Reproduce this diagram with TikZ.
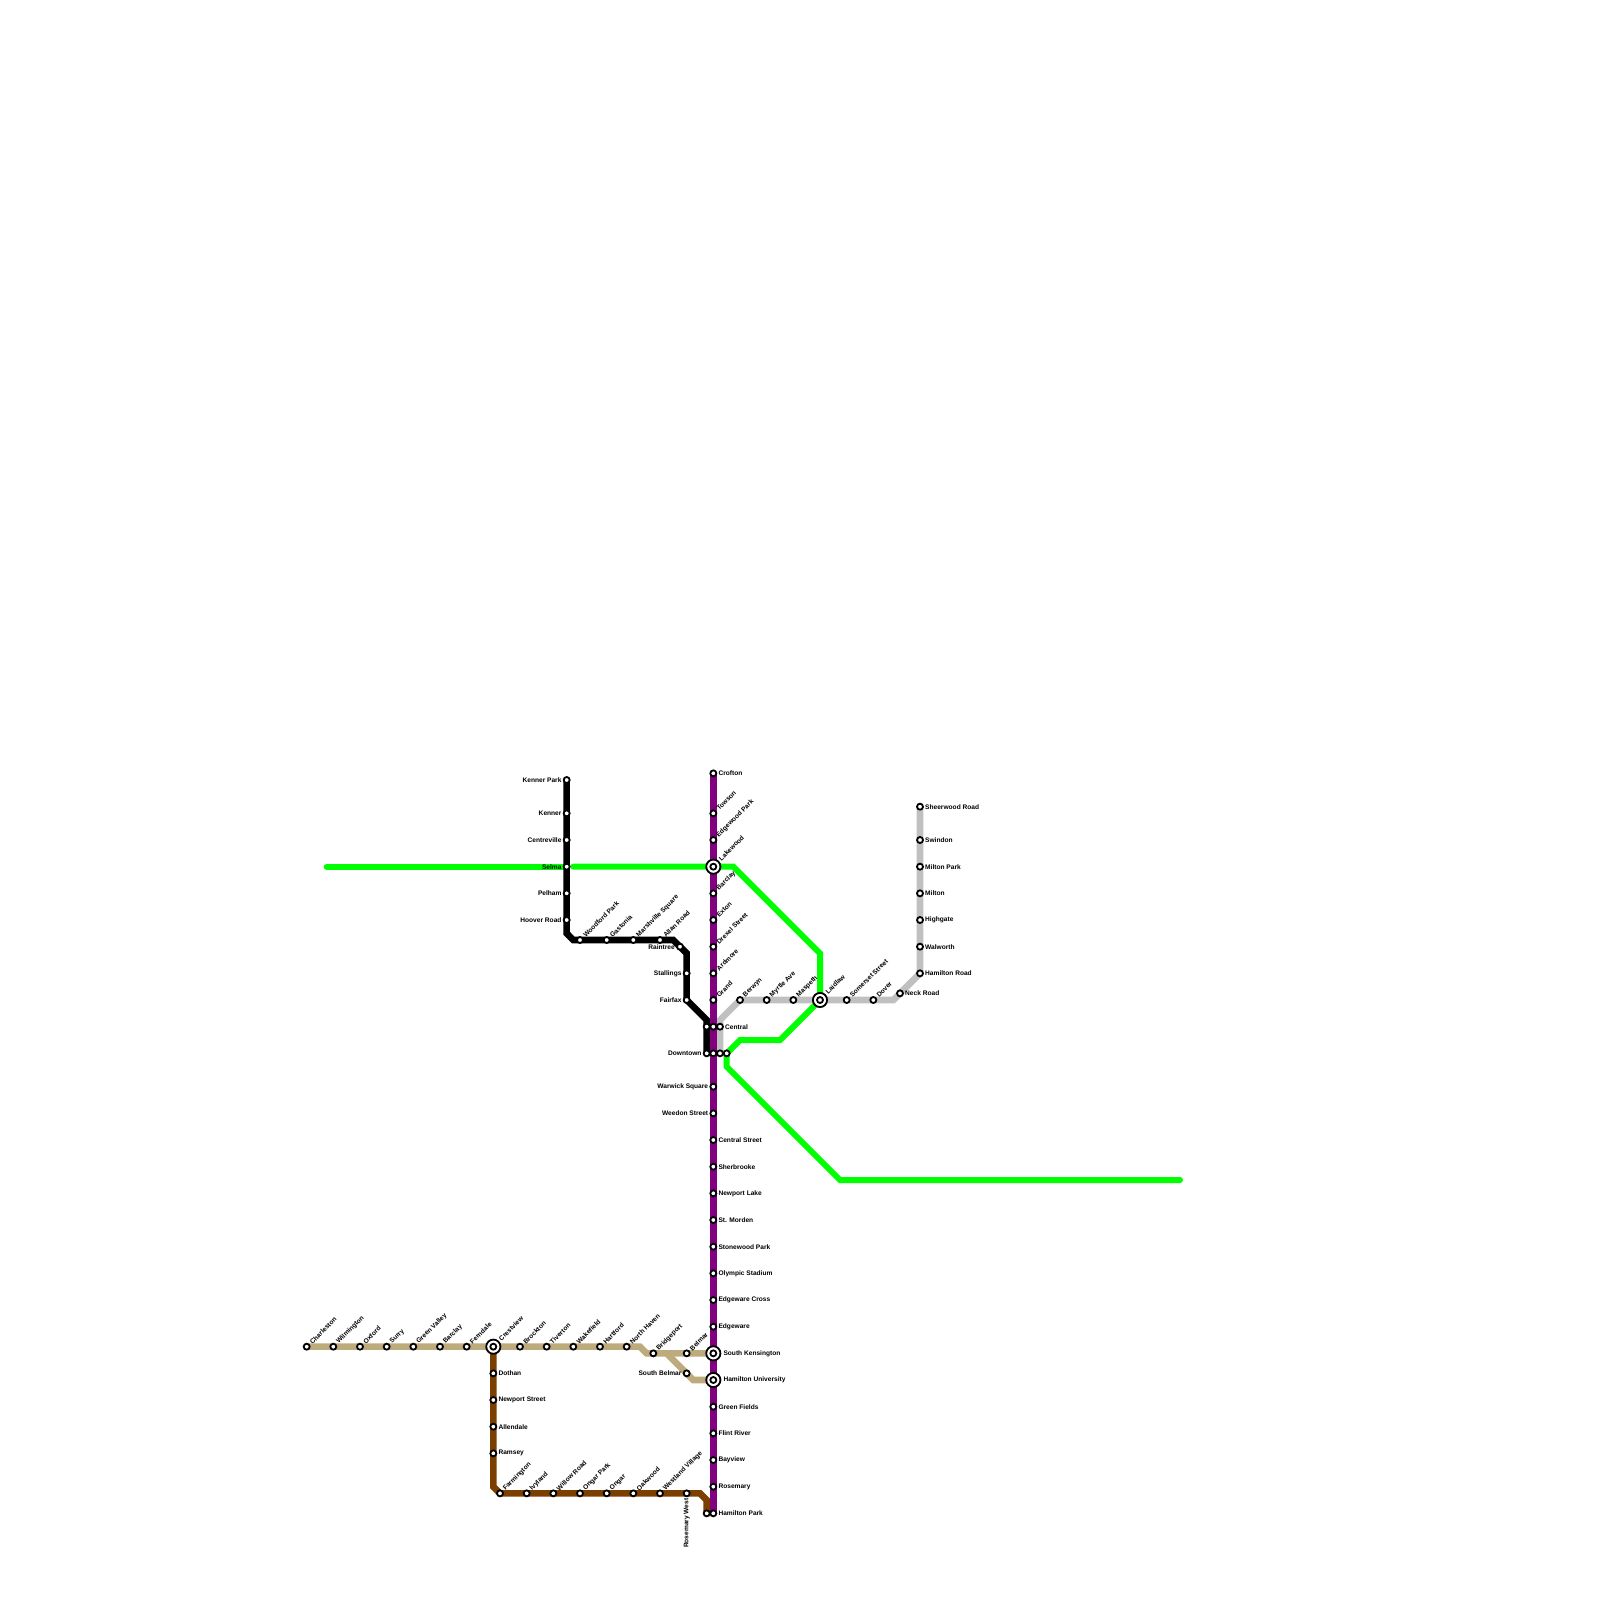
\documentclass[tikz,border=0pt]{standalone}
\usepackage{fontspec}
\setmainfont{Liberation Sans}
\definecolor{MetroPurple}{RGB}{128,0,128}
\definecolor{MetroGreen}{RGB}{0,255,0}
\definecolor{MetroGrey}{RGB}{192,192,192}
\definecolor{MetroTan}{RGB}{189,170,125}
\definecolor{MetroBrown}{RGB}{123,63,0}
\usetikzlibrary{backgrounds}
\tikzset{
    stn/.style={circle, draw=black, fill=white, line width=1.8pt, minimum size=6pt, inner sep=0pt},
    hub/.style={circle, draw=black, fill=white, line width=1.8pt, minimum size=14.2pt, inner sep=0pt},
    tag/.style={font=\fontsize{6.6}{7}\selectfont\bfseries, inner sep=0pt},
    tagr/.style={tag, xshift=5pt, anchor=west},
    tagl/.style={tag, xshift=-5pt, anchor=east},
    tagd/.style={tag, xshift=4.2pt, yshift=3.8pt, rotate=45, anchor=west},
    tagv/.style={tag, yshift=-5pt, rotate=90, anchor=east},
    tagR/.style={tag, xshift=10pt, anchor=west},
    tagD/.style={tag, xshift=6.5pt, yshift=7pt, rotate=45, anchor=west},
    metro/.style={line width=6.6pt, line cap=round},
}
\begin{document}
\begin{tikzpicture}[x=1pt, y=-1pt]
    \useasboundingbox (0,0) rectangle (1600,1600);
    \foreach \id/\x/\y/\side/\txt in {
        lakewood/713.33/866.67/tagD/Lakewood,
        laidlaw/820/1000/tagD/Laidlaw,
        crestview/493.33/1346.67/tagD/Crestview,
        kensington/713.33/1353.33/tagR/South Kensington,
        hamuni/713.33/1380/tagR/Hamilton University}{
        \node[hub] (\id-o) at (\x,\y) {};
        \node[stn] (\id) at (\x,\y) {};
        \node[\side] (\id-t) at (\id) {\txt};
    }
    \foreach \id/\x/\y/\side/\txt in {
        crofton/713.33/773.33/tagr/Crofton,
        towson/713.33/813.33/tagd/Towson,
        edgewood/713.33/840/tagd/Edgewood Park,
        barclayp/713.33/893.33/tagd/Barclay,
        exton/713.33/920/tagd/Exton,
        drexel/713.33/946.67/tagd/Drexel Street,
        ardmore/713.33/973.33/tagd/Ardmore,
        grand/713.33/1000/tagd/Grand,
        warwick/713.33/1086.67/tagl/Warwick Square,
        weedon/713.33/1113.33/tagl/Weedon Street,
        centralst/713.33/1140/tagr/Central Street,
        sherbrooke/713.33/1166.67/tagr/Sherbrooke,
        newportl/713.33/1193.33/tagr/Newport Lake,
        morden/713.33/1220/tagr/St. Morden,
        stonewood/713.33/1246.67/tagr/Stonewood Park,
        olympic/713.33/1273.33/tagr/Olympic Stadium,
        edgecross/713.33/1300/tagr/Edgeware Cross,
        edgeware/713.33/1326.67/tagr/Edgeware,
        greenf/713.33/1406.67/tagr/Green Fields,
        flint/713.33/1433.33/tagr/Flint River,
        bayview/713.33/1460/tagr/Bayview,
        rosemary/713.33/1486.67/tagr/Rosemary,
        hampark/713.33/1513.33/tagr/Hamilton Park,
        kennerp/566.67/780/tagl/Kenner Park,
        kenner/566.67/813.33/tagl/Kenner,
        centreville/566.67/840/tagl/Centreville,
        selma/566.67/866.67/tagl/Selma,
        pelham/566.67/893.33/tagl/Pelham,
        hoover/566.67/920/tagl/Hoover Road,
        woodford/580/940/tagd/Woodford Park,
        gastonia/606.67/940/tagd/Gastonia,
        marshville/633.33/940/tagd/Marshville Square,
        allan/660/940/tagd/Allan Road,
        raintree/680/946.67/tagl/Raintree,
        stallings/686.67/973.33/tagl/Stallings,
        fairfax/686.67/1000/tagl/Fairfax,
        downtown/706.67/1053.33/tagl/Downtown,
        central/720/1026.67/tagr/Central,
        berwyn/740/1000/tagd/Berwyn,
        myrtle/766.67/1000/tagd/Myrtle Ave,
        maspeth/793.33/1000/tagd/Maspeth,
        somerset/846.67/1000/tagd/Somerset Street,
        dover/873.33/1000/tagd/Dover,
        neck/900/993.33/tagr/Neck Road,
        hamroad/920/973.33/tagr/Hamilton Road,
        walworth/920/946.67/tagr/Walworth,
        highgate/920/920/tagr/Highgate,
        milton/920/893.33/tagr/Milton,
        miltonp/920/866.67/tagr/Milton Park,
        swindon/920/840/tagr/Swindon,
        sherwood/920/806.67/tagr/Sheerwood Road,
        charleston/306.67/1346.67/tagd/Charleston,
        wilmington/333.33/1346.67/tagd/Wilmington,
        oxford/360/1346.67/tagd/Oxford,
        surry/386.67/1346.67/tagd/Surry,
        greenv/413.33/1346.67/tagd/Green Valley,
        barclayt/440/1346.67/tagd/Barclay,
        ferndale/466.67/1346.67/tagd/Ferndale,
        brockton/520/1346.67/tagd/Brockton,
        tiverton/546.67/1346.67/tagd/Tiverton,
        wakefield/573.33/1346.67/tagd/Wakefield,
        hartford/600/1346.67/tagd/Hartford,
        northh/626.67/1346.67/tagd/North Haven,
        bridgeport/653.33/1353.33/tagd/Bridgeport,
        belmar/686.67/1353.33/tagd/Belmar,
        southb/686.67/1373.33/tagl/South Belmar,
        dothan/493.33/1373.33/tagr/Dothan,
        newports/493.33/1400/tagr/Newport Street,
        allendale/493.33/1426.67/tagr/Allendale,
        ramsey/493.33/1453.33/tagr/Ramsey,
        farmington/500/1493.33/tagd/Farmington,
        ivyland/526.67/1493.33/tagd/Ivyland,
        willow/553.33/1493.33/tagd/Willow Road,
        ongarp/580/1493.33/tagd/Ongar Park,
        ongar/606.67/1493.33/tagd/Ongar,
        oakwood/633.33/1493.33/tagd/Oakwood,
        westland/660/1493.33/tagd/Westland Village,
        rosew/686.67/1493.33/tagv/Rosemary West}{
        \node[stn] (\id) at (\x,\y) {};
        \node[\side] (\id-t) at (\id) {\txt};
    }
    \foreach \id/\x/\y in {
        blackc/706.67/1026.67, purplec/713.33/1026.67, purpled/713.33/1053.33,
        greyd/720/1053.33, greend/726.67/1053.33, brownh/706.67/1513.33}{
        \node[stn] (\id) at (\x,\y) {};
    }
    \coordinate (gwest) at (326.67,866.67);
    \coordinate (gmid) at (573.33,866.67);
    \coordinate (gbend) at (733.33,866.67);
    \coordinate (gdiag) at (820,953.33);
    \coordinate (glow) at (780,1040);
    \coordinate (glef) at (740,1040);
    \coordinate (gdown) at (726.67,1066.67);
    \coordinate (gfoot) at (840,1180);
    \coordinate (geast) at (1180,1180);
    \coordinate (kbend) at (566.67,933.33);
    \coordinate (kflat) at (573.33,940);
    \coordinate (krise) at (673.33,940);
    \coordinate (kside) at (686.67,953.33);
    \coordinate (kfoot) at (706.67,1020);
    \coordinate (ykink) at (720,1020);
    \coordinate (yflat) at (893.33,1000);
    \coordinate (tbend) at (640,1346.67);
    \coordinate (tfork) at (666.67,1353.33);
    \coordinate (tlow) at (693.33,1380);
    \coordinate (tjoin) at (646.67,1353.33);
    \coordinate (bbend) at (493.33,1486.67);
    \coordinate (bflat) at (700,1493.33);
    \coordinate (bdrop) at (706.67,1500);
    \begin{scope}[on background layer]
        \draw[metro, MetroGreen, line width=6pt] (gwest) -- (selma.center);
        \draw[metro, MetroGreen, line width=6pt] (gmid) -- (lakewood.center) -- (gbend) -- (gdiag) -- (laidlaw.center) -- (glow) -- (glef) -- (greend.center) -- (gdown) -- (gfoot) -- (geast);
        \draw[metro, MetroGrey] (greyd.center) -- (ykink) -- (berwyn.center) -- (yflat) -- (hamroad.center) -- (sherwood.center);
        \draw[metro, black] (kennerp.center) -- (kbend) -- (kflat) -- (krise) -- (kside) -- (fairfax.center) -- (kfoot) -- (downtown.center);
        \draw[metro, MetroBrown] (crestview.center) -- (bbend) -- (farmington.center) -- (bflat) -- (bdrop) -- (brownh.center);
        \draw[metro, MetroTan] (charleston.center) -- (tbend) -- (tjoin) -- (kensington.center);
        \draw[metro, MetroTan] (tfork) -- (tlow) -- (hamuni.center);
        \draw[metro, MetroPurple] (crofton.center) -- (hampark.center);
    \end{scope}
\end{tikzpicture}
\end{document}
